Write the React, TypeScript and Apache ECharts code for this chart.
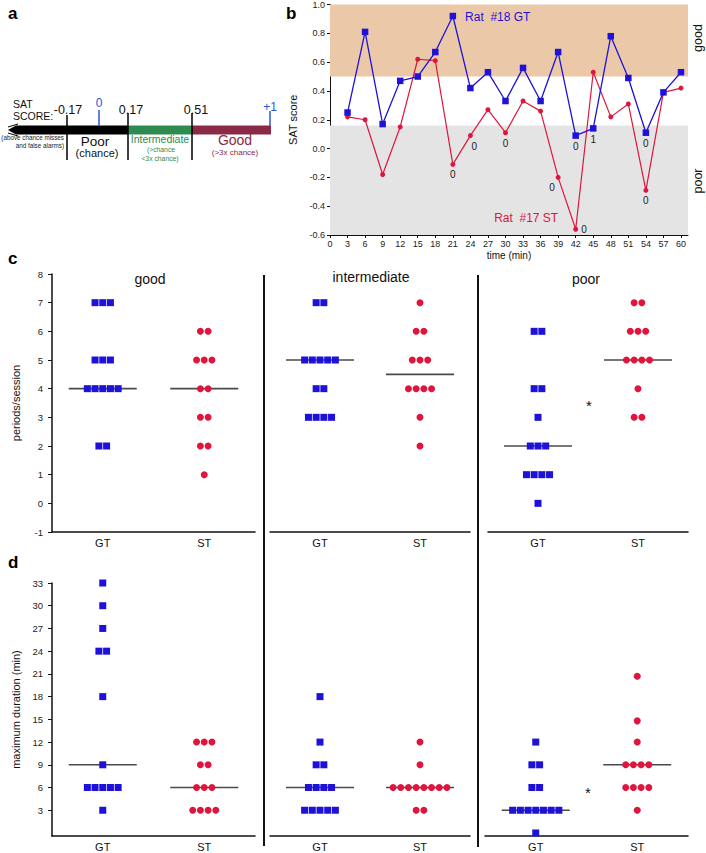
import React, { useEffect, useRef } from 'react';
import * as echarts from 'echarts';

const FONT = 'Liberation Sans, Arial, Helvetica, sans-serif';
const BLUE = '#1f12d8';
const RED = '#e0153d';
const TAN = '#ebc9a8';
const GRAY_BAND = '#e4e4e4';
const MEDIAN = '#4a4a4a';

// ---------- panel b data ----------
const TIME_MIN = [3, 6, 9, 12, 15, 18, 21, 24, 27, 30, 33, 36, 39, 42, 45, 48, 51, 54, 57, 60];
const RAT18_GT = [0.25, 0.81, 0.17, 0.47, 0.5, 0.67, 0.92, 0.42, 0.53, 0.33, 0.56, 0.33, 0.67, 0.09, 0.14, 0.78, 0.49, 0.11, 0.39, 0.53];
const RAT17_ST = [0.22, 0.2, -0.18, 0.15, 0.62, 0.61, -0.11, 0.09, 0.27, 0.11, 0.33, 0.26, -0.2, -0.56, 0.53, 0.22, 0.31, -0.29, 0.39, 0.42];
const GT_POINT_LABELS: Record<number, string> = { 42: '0', 45: '1', 54: '0' };
const ST_POINT_LABELS: Record<number, string> = { 21: '0', 24: '0', 30: '0', 39: '0', 42: '0', 54: '0' };
const B_X_TICKS = [0, 3, 6, 9, 12, 15, 18, 21, 24, 27, 30, 33, 36, 39, 42, 45, 48, 51, 54, 57, 60];
const GOOD_BAND = [0.5, 1.0];
const POOR_BAND = [-0.6, 0.16];

// ---------- panel c data (periods/session) ----------
const GROUPS = ['GT', 'ST'];
const C_GOOD_GT = [7, 7, 7, 5, 5, 5, 4, 4, 4, 4, 4, 2, 2];
const C_GOOD_ST = [6, 6, 5, 5, 5, 4, 4, 3, 3, 2, 2, 1];
const C_INT_GT = [7, 7, 5, 5, 5, 5, 5, 4, 4, 3, 3, 3, 3];
const C_INT_ST = [7, 6, 6, 5, 5, 5, 4, 4, 4, 4, 3, 2];
const C_POOR_GT = [6, 6, 4, 4, 3, 2, 2, 2, 1, 1, 1, 1, 0];
const C_POOR_ST = [7, 7, 6, 6, 6, 5, 5, 5, 5, 4, 3, 3];
const C_MEDIANS = [[4, 4], [5, 4.5], [2, 5]];

// ---------- panel d data (maximum duration) ----------
const D_GOOD_GT = [33, 30, 27, 24, 24, 18, 9, 6, 6, 6, 6, 6, 3];
const D_GOOD_ST = [12, 12, 12, 9, 9, 6, 6, 6, 3, 3, 3, 3];
const D_INT_GT = [18, 12, 9, 9, 6, 6, 6, 6, 3, 3, 3, 3, 3];
const D_INT_ST = [12, 9, 6, 6, 6, 6, 6, 6, 6, 6, 3, 3];
const D_POOR_GT = [12, 9, 9, 6, 6, 3, 3, 3, 3, 3, 3, 3, 0];
const D_POOR_ST = [20.7, 14.8, 12, 9, 9, 9, 9, 6, 6, 6, 6, 3];
const D_MEDIANS = [[9, 6], [6, 6], [3, 9]];

const D_Y_TICKS = [3, 6, 9, 12, 15, 18, 21, 24, 27, 30, 33];

const SPACING = 7.7;

function swarm(values: number[], cat: number) {
  const counts: Record<string, number> = {};
  values.forEach((v) => { counts[v] = (counts[v] || 0) + 1; });
  const seen: Record<string, number> = {};
  return values.map((v) => {
    const n = counts[v];
    const i = seen[v] || 0;
    seen[v] = i + 1;
    return { value: [cat, v], symbolOffset: [(i - (n - 1) / 2) * SPACING, 0] };
  });
}

function txt(x: number, y: number, text: string, size: number, fill = '#111', align = 'center', extra: any = {}) {
  const { bold, ...rest } = extra;
  return {
    type: 'text', x, y, silent: true, ...rest,
    style: { text, fill, fontSize: size, fontFamily: FONT, align, verticalAlign: 'middle', fontWeight: bold ? 'bold' : 'normal' },
  };
}

function line(x1: number, y1: number, x2: number, y2: number, color = '#111', w = 1.5) {
  return { type: 'line', silent: true, shape: { x1, y1, x2, y2 }, style: { stroke: color, lineWidth: w } };
}

export default function App() {
  const ref = useRef<HTMLDivElement>(null);
  useEffect(() => {
    if (!ref.current) return;
    const chart = echarts.init(ref.current, null, { renderer: 'svg' });

    const catX = (gridIndex: number) => ({
      type: 'category', gridIndex, data: GROUPS, boundaryGap: true,
      axisLine: { onZero: false, lineStyle: { color: '#111', width: 1.5 } },
      axisTick: { alignWithLabel: true, length: 3, lineStyle: { color: '#111' } },
      axisLabel: { fontSize: 11, color: '#111', margin: 5, fontFamily: FONT },
      splitLine: { show: false },
    });

    const cY = (gridIndex: number, show: boolean) => ({
      type: 'value', gridIndex, min: -1, max: 8, interval: 1, show,
      name: show ? 'periods/session' : '', nameLocation: 'middle', nameGap: 31,
      nameTextStyle: { fontSize: 11, color: '#111', fontFamily: FONT },
      axisLine: { show: true, onZero: false, lineStyle: { color: '#111', width: 1.5 } },
      axisTick: { show: true, length: 4, lineStyle: { color: '#111' } },
      axisLabel: { fontSize: 9.5, color: '#222', margin: 9, fontFamily: FONT },
      splitLine: { show: false },
    });
    const dY = (gridIndex: number, show: boolean) => ({
      type: 'value', gridIndex, min: -0.4, max: 33, show,
      name: show ? 'maximum duration (min)' : '', nameLocation: 'middle', nameGap: 31,
      nameTextStyle: { fontSize: 11, color: '#111', fontFamily: FONT },
      axisLine: { show: true, onZero: false, lineStyle: { color: '#111', width: 1.5 } },
      axisTick: { show: true, length: 4, customValues: D_Y_TICKS, lineStyle: { color: '#111' } },
      axisLabel: { fontSize: 9.5, color: '#222', margin: 9, customValues: D_Y_TICKS, fontFamily: FONT },
      splitLine: { show: false },
    });

    const swarmSets = [
      [C_GOOD_GT, C_GOOD_ST, C_MEDIANS[0]],
      [C_INT_GT, C_INT_ST, C_MEDIANS[1]],
      [C_POOR_GT, C_POOR_ST, C_MEDIANS[2]],
      [D_GOOD_GT, D_GOOD_ST, D_MEDIANS[0]],
      [D_INT_GT, D_INT_ST, D_MEDIANS[1]],
      [D_POOR_GT, D_POOR_ST, D_MEDIANS[2]],
    ];

    const swarmSeries: any[] = [];
    swarmSets.forEach(([gt, st, med], k) => {
      const ax = k + 1;
      swarmSeries.push({
        type: 'scatter', xAxisIndex: ax, yAxisIndex: ax, silent: true, z: 2,
        symbol: 'rect', symbolSize: [68, 1.6], itemStyle: { color: MEDIAN, opacity: 1 },
        data: (med as number[]).map((m, i) => [i, m]),
      });
      swarmSeries.push({
        type: 'scatter', xAxisIndex: ax, yAxisIndex: ax, silent: true, z: 3,
        symbol: 'rect', symbolSize: 7, itemStyle: { color: BLUE, opacity: 1 },
        data: swarm(gt as number[], 0),
      });
      swarmSeries.push({
        type: 'scatter', xAxisIndex: ax, yAxisIndex: ax, silent: true, z: 3,
        symbol: 'circle', symbolSize: 7, itemStyle: { color: RED, opacity: 1 },
        data: swarm(st as number[], 1),
      });
    });

    const labelPos: Record<string, any> = {
      'ST24': { offset: [4, 0] },
      'ST39': { offset: [-6, 0] },
      'ST42': { position: 'right', distance: 3 },
    };
    const mkPoints = (vals: number[], labels: Record<number, string>, key: string) =>
      vals.map((v, i) => {
        const t = TIME_MIN[i];
        const item: any = { value: [t, v] };
        if (labels[t] !== undefined) {
          item.label = {
            show: true, formatter: labels[t], position: 'bottom', distance: 3,
            fontSize: 10, color: '#222', fontFamily: FONT, ...(labelPos[key + t] || {}),
          };
        }
        if (key === 'GT' && t === 21) {
          item.label = { show: true, formatter: 'Rat  #18 GT', position: 'right', distance: 9, offset: [0, 1], fontSize: 12, color: BLUE, fontFamily: FONT };
        }
        return item;
      });

    const option: any = {
      animation: false,
      textStyle: { fontFamily: FONT },
      grid: [
        { left: 330, top: 3, width: 358, height: 232 },
        { left: 52, top: 274, width: 203, height: 258 },
        { left: 270, top: 274, width: 200, height: 258 },
        { left: 488, top: 274, width: 200, height: 258 },
        { left: 52, top: 583, width: 203, height: 253 },
        { left: 270, top: 583, width: 200, height: 253 },
        { left: 485, top: 583, width: 203, height: 253 },
      ],
      xAxis: [
        {
          type: 'value', gridIndex: 0, min: 0, max: 61.2,
          name: 'time (min)', nameLocation: 'middle', nameGap: 15,
          nameTextStyle: { fontSize: 10, color: '#111', fontFamily: FONT },
          axisLine: { onZero: false, lineStyle: { color: '#111', width: 1 } },
          axisTick: { length: 3, customValues: B_X_TICKS, lineStyle: { color: '#111' } },
          axisLabel: { fontSize: 9, color: '#222', margin: 4, customValues: B_X_TICKS, fontFamily: FONT },
          splitLine: { show: false },
        },
        catX(1), catX(2), catX(3),
        catX(4), catX(5), catX(6),
      ],
      yAxis: [
        {
          type: 'value', gridIndex: 0, min: -0.6, max: 1.0, interval: 0.2,
          name: 'SAT score', nameLocation: 'middle', nameGap: 26,
          nameTextStyle: { fontSize: 11, color: '#111', fontFamily: FONT },
          axisLine: { show: true, onZero: false, lineStyle: { color: '#111', width: 1 } },
          axisTick: { show: true, length: 3, lineStyle: { color: '#111' } },
          axisLabel: {
            fontSize: 9, color: '#222', margin: 5, fontFamily: FONT,
            formatter: (v: number) => (Math.abs(v) < 1e-9 ? '0.0' : v.toFixed(1)),
          },
          splitLine: { show: false },
        },
        cY(1, true), cY(2, false), cY(3, false),
        dY(4, true), dY(5, false), dY(6, false),
      ],
      series: [
        {
          type: 'line', xAxisIndex: 0, yAxisIndex: 0, silent: true, z: 3,
          symbol: 'circle', symbolSize: 5,
          lineStyle: { color: RED, width: 1.2 }, itemStyle: { color: RED },
          data: mkPoints(RAT17_ST, ST_POINT_LABELS, 'ST'),
          markArea: {
            silent: true,
            data: [
              [{ yAxis: GOOD_BAND[0], itemStyle: { color: TAN } }, { yAxis: GOOD_BAND[1] }],
              [{ yAxis: POOR_BAND[0], itemStyle: { color: GRAY_BAND } }, { yAxis: POOR_BAND[1] }],
            ],
          },
          markPoint: {
            silent: true, symbol: 'circle', symbolSize: 1,
            itemStyle: { color: 'rgba(0,0,0,0)' },
            data: [{
              coord: [42, -0.56],
              label: { show: true, formatter: 'Rat  #17 ST', position: 'left', distance: 17, offset: [0, -11], fontSize: 12, color: RED, fontFamily: FONT },
            }],
          },
        },
        {
          type: 'line', xAxisIndex: 0, yAxisIndex: 0, silent: true, z: 4,
          symbol: 'rect', symbolSize: 6.5,
          lineStyle: { color: BLUE, width: 1.3 }, itemStyle: { color: BLUE },
          data: mkPoints(RAT18_GT, GT_POINT_LABELS, 'GT'),
        },
        ...swarmSeries,
      ],
      graphic: [
        // panel letters
        txt(8, 13, 'a', 17, '#000', 'left', { bold: true }),
        txt(286, 13, 'b', 17, '#000', 'left', { bold: true }),
        txt(8, 258, 'c', 17, '#000', 'left', { bold: true }),
        txt(8, 562, 'd', 17, '#000', 'left', { bold: true }),
        // panel a schematic
        { type: 'polygon', silent: true, shape: { points: [[8, 130], [16, 125.5], [128, 125.5], [128, 134.5], [16, 134.5]] }, style: { fill: '#000' } },
        line(8, 127, 18, 124, '#000', 1), line(8, 133, 18, 136, '#000', 1),
        { type: 'rect', silent: true, shape: { x: 128, y: 125.5, width: 64, height: 9 }, style: { fill: '#2e8b50' } },
        { type: 'rect', silent: true, shape: { x: 192, y: 125.5, width: 79, height: 9 }, style: { fill: '#8a2a47' } },
        line(67, 115, 67, 160, '#000', 1.5),
        line(128, 113, 128, 160, '#000', 1.5),
        line(192, 113, 192, 160, '#000', 1.5),
        line(99, 110, 99, 126, '#2a56d8', 1.5),
        line(270, 111, 270, 126, '#2a56d8', 1.5),
        txt(13, 104, 'SAT', 10.5, '#111', 'left'),
        txt(13, 115.5, 'SCORE:', 10.5, '#111', 'left'),
        txt(68, 110, '-0.17', 12.5),
        txt(131, 110, '0.17', 12.5),
        txt(196, 110, '0.51', 12.5),
        txt(99, 103, '0', 12, '#2a56d8'),
        txt(270, 107, '+1', 12, '#2a56d8'),
        txt(64, 137.5, '(above chance misses', 6.3, '#222', 'right'),
        txt(64, 145, 'and false alarms)', 6.3, '#222', 'right'),
        txt(95, 141, 'Poor', 13.5),
        txt(97, 153, '(chance)', 11),
        txt(160, 138.5, 'Intermediate', 10.5, '#2e8b50'),
        txt(161, 149.5, '(>chance', 6.8, '#2e8b50'),
        txt(160, 158, '<3x chance)', 6.8, '#2e8b50'),
        txt(235, 140, 'Good', 14, '#8a2a47'),
        txt(235, 152, '(>3x chance)', 8, '#8a2a47'),
        // panel b right-side labels
        txt(698, 38, 'good', 12.5, '#111', 'center', { rotation: Math.PI / 2 }),
        txt(698, 181, 'poor', 12.5, '#111', 'center', { rotation: Math.PI / 2 }),
        // panel c/d titles, separators, asterisks
        txt(150, 279, 'good', 14),
        txt(371, 277, 'intermediate', 14),
        txt(586, 279, 'poor', 14),
        line(264, 275, 264, 846, '#111', 2),
        line(478, 275, 478, 847, '#111', 2),
        txt(589, 405, '*', 15),
        txt(588, 792, '*', 15),
      ],
    };

    chart.setOption(option);
    return () => chart.dispose();
  }, []);

  return (
    <div
      ref={ref}
      style={{ position: 'fixed', left: 0, top: 0, width: 706, height: 853, background: '#fff' }}
    />
  );
}
